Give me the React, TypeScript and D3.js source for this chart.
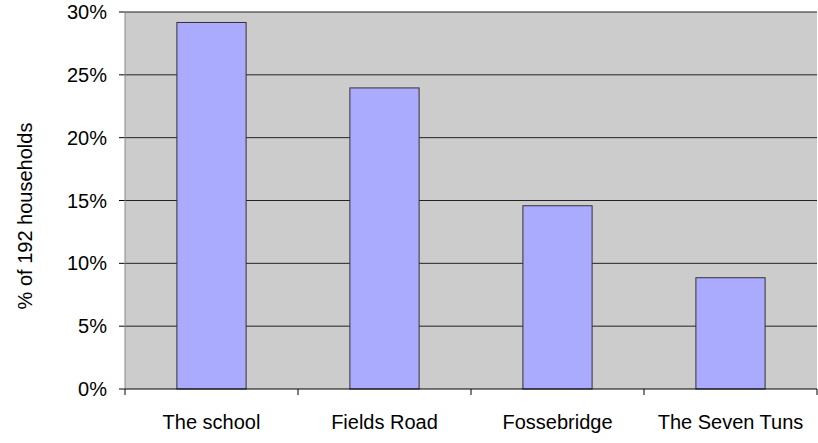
import React from "react";
import * as d3 from "d3";

const categories = ["The school", "Fields Road", "Fossebridge", "The Seven Tuns"];
const households = [56, 46, 28, 17];
const totalHouseholds = 192;
const yTicks = [0, 0.05, 0.1, 0.15, 0.2, 0.25, 0.3];

export default function App() {
  const W = 818, H = 443;
  const left = 125, right = 817, top = 12, bottom = 389;
  const x = d3.scaleBand<string>().domain(categories).range([left, right]).paddingInner(0.6).paddingOuter(0.3);
  const xb = d3.scaleBand<string>().domain(categories).range([left, right]);
  const y = d3.scaleLinear().domain([0, 0.3]).range([bottom, top]);
  const fmt = d3.format(".0%");
  const font = "'Liberation Sans', Arial, sans-serif";
  return (
    <svg width={W} height={H} style={{ position: "absolute", left: 0, top: 0 }}>
      <rect x={0} y={0} width={W} height={H} fill="#fff" />
      <rect x={left} y={top} width={right - left} height={bottom - top} fill="#cccccc" />
      {yTicks.map((t) => (
        <g key={t}>
          {t > 0 && <line x1={left} x2={right} y1={y(t)} y2={y(t)} stroke="#222" strokeWidth={1} />}
          <line x1={left - 6} x2={left} y1={y(t)} y2={y(t)} stroke="#000" />
          <text x={107} y={y(t)} dy="0.35em" textAnchor="end" fontFamily={font} fontSize={20} fill="#000">
            {fmt(t)}
          </text>
        </g>
      ))}
      <line x1={left} x2={left} y1={top} y2={bottom} stroke="#888" />
      {categories.map((c, i) => (
        <rect
          key={c}
          x={x(c)}
          y={y(households[i] / totalHouseholds)}
          width={x.bandwidth()}
          height={bottom - y(households[i] / totalHouseholds)}
          fill="#aaaaff"
          stroke="#333"
          strokeWidth={1}
        />
      ))}
      <line x1={left} x2={right} y1={bottom} y2={bottom} stroke="#000" />
      {categories.map((c, i) => (
        <g key={c}>
          <line x1={xb(c)!} x2={xb(c)!} y1={bottom} y2={bottom + 6} stroke="#000" />
          {i === categories.length - 1 && (
            <line x1={right} x2={right} y1={bottom} y2={bottom + 6} stroke="#000" />
          )}
          <text x={xb(c)! + xb.bandwidth() / 2} y={429} textAnchor="middle" fontFamily={font} fontSize={20} fill="#000">
            {c}
          </text>
        </g>
      ))}
      <text
        transform={`translate(25,216) rotate(-90)`}
        textAnchor="middle"
        dy="0.35em"
        fontFamily={font}
        fontSize={20}
        fill="#000"
      >
        % of 192 households
      </text>
    </svg>
  );
}
